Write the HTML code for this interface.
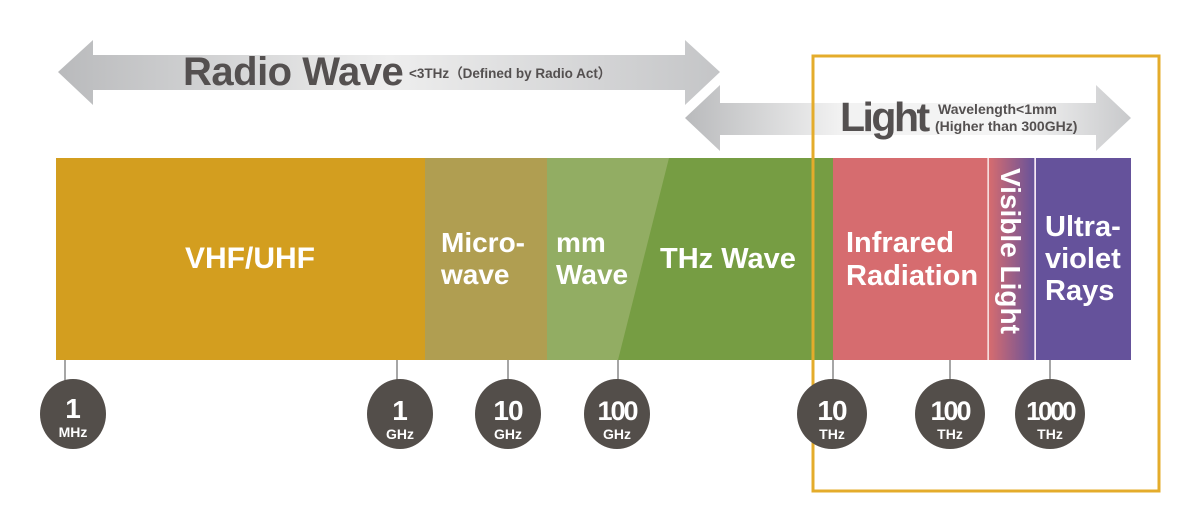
<!DOCTYPE html>
<html><head><meta charset="utf-8"><style>
html,body{margin:0;padding:0;background:#fff;width:1200px;height:524px;overflow:hidden}
text{font-family:"Liberation Sans","DejaVu Sans",sans-serif;font-weight:bold}
</style></head><body>
<svg width="1200" height="524" viewBox="0 0 1200 524" xmlns="http://www.w3.org/2000/svg">
<defs>
<linearGradient id="g1" x1="0" x2="1" y1="0" y2="0">
<stop offset="0" stop-color="#b9babc"/><stop offset="0.5" stop-color="#eeeeee"/><stop offset="1" stop-color="#c4c5c7"/></linearGradient>
<linearGradient id="g2" x1="0" x2="1" y1="0" y2="0">
<stop offset="0" stop-color="#b9babc"/><stop offset="0.35" stop-color="#f2f2f2"/><stop offset="0.75" stop-color="#f4f4f4"/><stop offset="1" stop-color="#c8c9cb"/></linearGradient>
<linearGradient id="vis" x1="0" x2="1" y1="0" y2="0">
<stop offset="0" stop-color="#d66c6f"/><stop offset="1" stop-color="#65529b"/></linearGradient>
</defs>
<polygon points="58,72 93,40 93,55 685,55 685,40 720,72 685,105 685,90 93,90 93,105" fill="url(#g1)"/>
<text x="183" y="85" font-size="40" fill="#545050" letter-spacing="-0.5">Radio Wave</text>
<text x="409" y="78" font-size="13.5" fill="#545050">&lt;3THz（Defined by Radio Act）</text>
<polygon points="685,118 720,85 720,103 1096,103 1096,85 1131,118 1096,151 1096,135 720,135 720,151" fill="url(#g2)"/>
<text x="840" y="131" font-size="41" fill="#545050" letter-spacing="-2.5">Light</text>
<text x="938" y="114" font-size="14" fill="#545050">Wavelength&lt;1mm</text>
<text x="935" y="131" font-size="14" fill="#545050">(Higher than 300GHz)</text>
<rect x="56" y="158" width="370" height="202" fill="#d39e1f"/>
<rect x="425" y="158" width="123" height="202" fill="#b09e51"/>
<rect x="547" y="158" width="125" height="202" fill="#92ad63"/>
<polygon points="669,158 833,158 833,360 618,360" fill="#769d43"/>
<rect x="833" y="158" width="155" height="202" fill="#d66c6f"/>
<rect x="989" y="158" width="46" height="202" fill="url(#vis)"/>
<rect x="1036" y="158" width="95" height="202" fill="#65529b"/>
<line x1="988" y1="158" x2="988" y2="360" stroke="#f2d0d0" stroke-width="1.5"/>
<line x1="1035" y1="158" x2="1035" y2="360" stroke="#f2e0f0" stroke-width="1.5"/>
<g fill="#fff">
<text x="250" y="268" font-size="30" text-anchor="middle">VHF/UHF</text>
<text x="441" y="252" font-size="28">Micro-</text>
<text x="441" y="284" font-size="28">wave</text>
<text x="556" y="252" font-size="28">mm</text>
<text x="556" y="284" font-size="28">Wave</text>
<text x="660" y="268" font-size="29">THz Wave</text>
<text x="846" y="252" font-size="29">Infrared</text>
<text x="846" y="285" font-size="29">Radiation</text>
<text x="1045" y="236" font-size="29">Ultra-</text>
<text x="1045" y="268" font-size="29">violet</text>
<text x="1045" y="300" font-size="29">Rays</text>
<text transform="translate(1001,168) rotate(90)" font-size="28">Visible Light</text>
</g>
<rect x="813" y="56" width="346" height="435" fill="none" stroke="#e4ac2b" stroke-width="3"/>
<g stroke="#888" stroke-width="1.5">
<line x1="65" y1="360" x2="65" y2="385"/><line x1="397" y1="360" x2="397" y2="385"/>
<line x1="508" y1="360" x2="508" y2="385"/><line x1="618" y1="360" x2="618" y2="385"/>
<line x1="833" y1="360" x2="833" y2="385"/><line x1="950" y1="360" x2="950" y2="385"/>
<line x1="1050" y1="360" x2="1050" y2="385"/>
</g>
<g fill="#534e4a">
<ellipse cx="73" cy="414" rx="33" ry="35"/>
<ellipse cx="400" cy="414" rx="33" ry="35"/>
<ellipse cx="508" cy="414" rx="33" ry="35"/>
<ellipse cx="617" cy="414" rx="33" ry="35"/>
<circle cx="832" cy="414" r="35"/>
<circle cx="950" cy="414" r="35"/>
<circle cx="1050" cy="414" r="35"/>
</g>
<g fill="#fff" text-anchor="middle">
<text x="73" y="418" font-size="28">1</text><text x="73" y="437" font-size="14">MHz</text>
<text x="400" y="420" font-size="28">1</text><text x="400" y="439" font-size="14">GHz</text>
<text x="508" y="420" font-size="28" letter-spacing="-1">10</text><text x="508" y="439" font-size="14">GHz</text>
<text x="617" y="420" font-size="27" letter-spacing="-2">100</text><text x="617" y="439" font-size="14">GHz</text>
<text x="832" y="420" font-size="28" letter-spacing="-1">10</text><text x="832" y="439" font-size="14">THz</text>
<text x="950" y="420" font-size="27" letter-spacing="-2">100</text><text x="950" y="439" font-size="14">THz</text>
<text x="1050" y="420" font-size="26" letter-spacing="-2.5">1000</text><text x="1050" y="439" font-size="14">THz</text>
</g>
</svg>
</body></html>
